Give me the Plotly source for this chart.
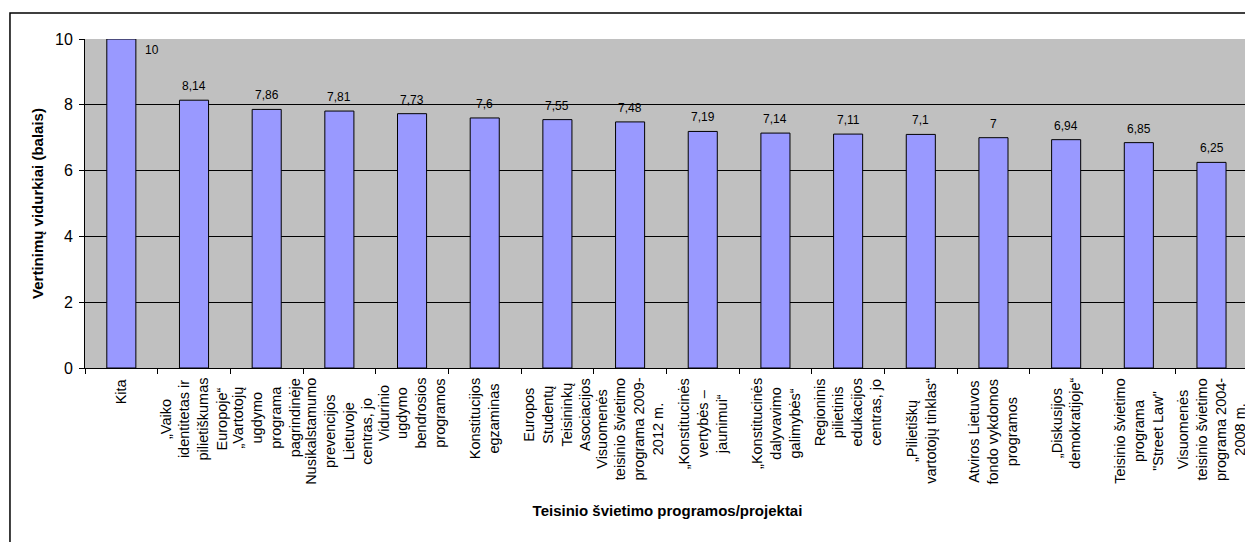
import plotly.graph_objects as go

# programos / projektai
programs = [
    "Kita",
    "„Vaiko<br>identitetas ir<br>pilietiškumas<br>Europoje“",
    "„Vartotojų<br>ugdymo<br>programa<br>pagrindinėje",
    "Nusikalstamumo<br>prevencijos<br>Lietuvoje<br>centras, jo",
    "Vidurinio<br>ugdymo<br>bendrosios<br>programos",
    "Konstitucijos<br>egzaminas",
    "Europos<br>Studentų<br>Teisininkų<br>Asociacijos",
    "Visuomenės<br>teisinio švietimo<br>programa 2009-<br>2012 m.",
    "„Konstitucinės<br>vertybės –<br>jaunimui“",
    "„Konstitucinės<br>dalyvavimo<br>galimybės“",
    "Regioninis<br>pilietinis<br>edukacijos<br>centras, jo",
    "„Pilietiškų<br>vartotojų tinklas“",
    "Atviros Lietuvos<br>fondo vykdomos<br>programos",
    "„Diskusijos<br>demokratijoje“",
    "Teisinio švietimo<br>programa<br>\"Street Law\"",
    "Visuomenės<br>teisinio švietimo<br>programa 2004-<br>2008 m.",
]
scores = [10, 8.14, 7.86, 7.81, 7.73, 7.6, 7.55, 7.48, 7.19, 7.14, 7.11, 7.1, 7, 6.94, 6.85, 6.25]
y_ticks = [0, 2, 4, 6, 8, 10]

labels = [f"{v:g}".replace(".", ",") for v in scores]
FONT = "Arial, Liberation Sans, sans-serif"

fig = go.Figure(
    data=[
        go.Bar(
            x=programs,
            y=scores,
            marker=dict(color="#9999FF", line=dict(color="black", width=1)),
            hoverinfo="x+y",
        )
    ]
)

# value labels above the bars; the top one sits beside its bar like in Excel
for i, (p, v, lab) in enumerate(zip(programs, scores, labels)):
    if i == 0:
        fig.add_annotation(x=p, y=v, text=lab, showarrow=False,
                           xanchor="left", yanchor="top", xshift=22, yshift=-2,
                           font=dict(size=12, color="black", family=FONT))
    else:
        fig.add_annotation(x=p, y=v, text=lab, showarrow=False,
                           xanchor="center", yanchor="bottom", yshift=5,
                           font=dict(size=12, color="black", family=FONT))

# category labels, rotated, lines centred
for p in programs:
    fig.add_annotation(x=p, y=0, text=p, showarrow=False, textangle=-90,
                       align="center", xanchor="center", yanchor="top", yshift=-8,
                       font=dict(size=14.5, color="black", family=FONT))

# outer chart frame
fig.add_shape(
    type="rect", xref="paper", yref="paper",
    x0=-0.0644, x1=1.05, y0=-1.0, y1=1.079,
    line=dict(color="black", width=1.5), fillcolor="rgba(0,0,0,0)",
)
# grey edge on the right of the plot area
fig.add_shape(
    type="line", xref="paper", yref="paper",
    x0=1, x1=1, y0=0, y1=1,
    line=dict(color="#808080", width=2),
)

# the page body adds 8px around the plot, so the figure is 8px smaller
fig.update_layout(
    width=1245,
    height=534,
    margin=dict(l=77, r=3, t=31, b=174),
    paper_bgcolor="white",
    plot_bgcolor="#C0C0C0",
    bargap=0.6,
    showlegend=False,
    font=dict(family=FONT, color="black"),
)
fig.update_xaxes(
    title=dict(text="<b>Teisinio švietimo programos/projektai</b>",
               font=dict(size=15, family=FONT), standoff=137),
    showticklabels=False,
    tickson="boundaries",
    ticks="outside", ticklen=5, tickcolor="black",
    showline=True, linecolor="black", linewidth=1,
    showgrid=False,
    automargin=False,
)
fig.update_yaxes(
    title=dict(text="<b>Vertinimų vidurkiai (balais)</b>",
               font=dict(size=15, family=FONT), standoff=7),
    range=[0, 10],
    tickvals=y_ticks,
    tickfont=dict(size=16, family=FONT),
    ticklabelstandoff=3,
    ticks="outside", ticklen=5, tickcolor="black",
    showline=True, linecolor="black", linewidth=1,
    showgrid=True, gridcolor="black", gridwidth=1,
    zeroline=False,
    automargin=False,
)

fig.write_html("out.html")
